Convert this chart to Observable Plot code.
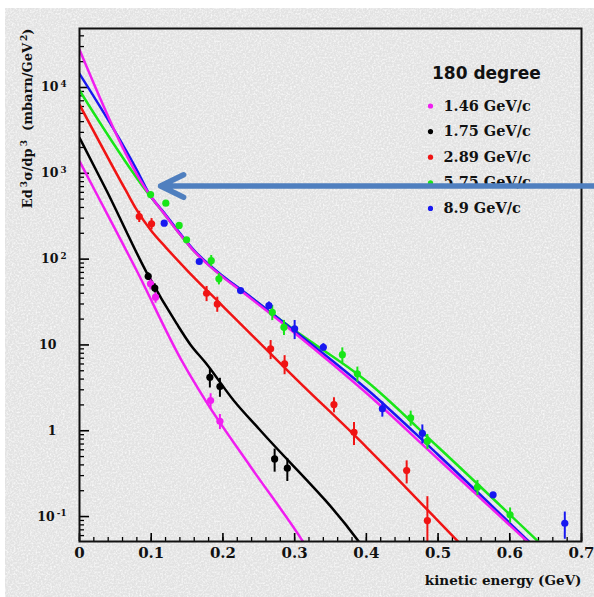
<!DOCTYPE html>
<html><head><meta charset="utf-8">
<script src="https://cdn.jsdelivr.net/npm/d3@7"></script>
<script src="https://cdn.jsdelivr.net/npm/@observablehq/plot@0.6"></script>
<style>
html,body{margin:0;padding:0;background:#fff;}
#wrap{position:relative;width:594px;height:597px;overflow:hidden;}
#bg{position:absolute;left:5px;top:8px;right:0;bottom:0;background-color:#e2e2e2;
background-image:url("data:image/svg+xml;utf8,<svg xmlns='http://www.w3.org/2000/svg' width='240' height='240'><filter id='n'><feTurbulence type='fractalNoise' baseFrequency='0.55' numOctaves='3' stitchTiles='stitch'/><feColorMatrix type='matrix' values='0 0 0 0 1  0 0 0 0 1  0 0 0 0 1  1.6 0 0 0 -0.62'/></filter><rect width='100%' height='100%' filter='url(%23n)'/></svg>");}
#chart{position:absolute;left:0;top:0;}
</style></head>
<body><div id="wrap"><div id="bg"></div><div id="chart"></div></div>
<script>
// ---------- axes ----------
const xDomain = [0, 0.7];
const yDomain = [0.0512, 48700];
const xTicks = [0, 0.1, 0.2, 0.3, 0.4, 0.5, 0.6, 0.7];
const xTickLabels = ["0", "0.1", "0.2", "0.3", "0.4", "0.5", "0.6", "0.7"];
const xMinorTicks = d3.range(0, 0.7001, 0.02);
const yTicks = [1e4, 1e3, 1e2, 10, 1, 0.1];
const yTickLabels = ["10{4}", "10{3}", "10{2}", "10", "1", "10{-1}"];
const yMinorTicks = [];
for (let e = -2; e <= 4; e++) for (let m = 2; m <= 9; m++) {
  const v = m * Math.pow(10, e);
  if (v > yDomain[0] && v < yDomain[1]) yMinorTicks.push(v);
}
const yLabel = "Ed{3}σ/dp{3}  (mbarn/GeV{2})";
const xLabel = "kinetic energy (GeV)";
const legendTitle = "180 degree";

// ---------- series ----------
const seriesNames = ["1.46 GeV/c", "1.75 GeV/c", "2.89 GeV/c", "5.75 GeV/c", "8.9 GeV/c"];
const seriesColors = ["#f01ef0", "#000000", "#f01414", "#18e618", "#1818f0"];

// measured points (x: kinetic energy GeV, y: cross section, err: relative error)
const p146X = [0.099, 0.106, 0.1828, 0.1958];
const p146Y = [51.5, 36, 2.25, 1.29];
const p146Err = [0.15, 0.15, 0.2, 0.2];

const p175X = [0.0958, 0.105, 0.1818, 0.1958, 0.2721, 0.2898];
const p175Y = [63, 46, 4.2, 3.27, 0.47, 0.366];
const p175Err = [0.1, 0.12, 0.25, 0.25, 0.3, 0.3];

const p289X = [0.0833, 0.1005, 0.1772, 0.1921, 0.2665, 0.286, 0.3548, 0.3828, 0.4562, 0.4851];
const p289Y = [314, 258, 40, 30, 9.0, 6.0, 2.02, 0.96, 0.343, 0.0897];
const p289Err = [0.15, 0.15, 0.2, 0.2, 0.25, 0.25, 0.2, 0.3, 0.3, 0.9];

const p575X = [0.0991, 0.1204, 0.139, 0.1493, 0.1837, 0.1944, 0.2688, 0.2851, 0.3665, 0.3875, 0.4618, 0.4851, 0.5549, 0.6004];
const p575Y = [566, 449, 247, 168, 96, 58.9, 24, 16.1, 7.7, 4.6, 1.41, 0.755, 0.22, 0.105];
const p575Err = [0.04, 0.04, 0.05, 0.05, 0.15, 0.15, 0.2, 0.2, 0.2, 0.2, 0.2, 0.2, 0.2, 0.2];

const p89X = [0.1181, 0.167, 0.2246, 0.2642, 0.300, 0.340, 0.4223, 0.4781, 0.5767, 0.6767];
const p89Y = [262, 93.8, 43, 28.8, 15.4, 9.4, 1.80, 0.935, 0.179, 0.0836];
const p89Err = [0.05, 0.05, 0.05, 0.1, 0.25, 0.1, 0.2, 0.25, 0.05, 0.35];

// fitted curves
const fitMagentaLowX = [0, 0.0214, 0.0795, 0.1423, 0.1758, 0.2386, 0.3107, 0.313];
const fitMagentaLowY = [1384, 631, 74.1, 6.61, 2.24, 0.380, 0.0525, 0.049];

const fitBlackX = [0, 0.0377, 0.0958, 0.1353, 0.155, 0.175, 0.2153, 0.2526, 0.3875, 0.391];
const fitBlackY = [2594, 631, 64.6, 17.8, 10, 6.31, 2.24, 1.0, 0.0537, 0.049];

const fitRedX = [0, 0.0646, 0.08, 0.1, 0.12, 0.15, 0.2, 0.3, 0.4, 0.5, 0.53];
const fitRedY = [6310, 631, 372, 214, 138, 74.1, 28.2, 4.17, 0.646, 0.0891, 0.049];

const fitGreenX = [0, 0.097, 0.118, 0.14, 0.16, 0.18, 0.2, 0.225, 0.3, 0.4, 0.5, 0.642];
const fitGreenY = [9230, 562, 339, 195, 123, 86.1, 62.4, 43.7, 14.8, 3.80, 0.646, 0.049];

const fitBlueX = [0, 0.0805, 0.0966, 0.118, 0.14, 0.16, 0.18, 0.2, 0.225, 0.3, 0.4, 0.5, 0.629];
const fitBlueY = [14450, 1072, 589, 347, 200, 126, 87.1, 63.1, 44.2, 14.5, 3.09, 0.525, 0.049];

const fitMagentaHighX = [0, 0.0966, 0.118, 0.14, 0.16, 0.18, 0.2, 0.225, 0.3, 0.4, 0.5, 0.627];
const fitMagentaHighY = [27500, 582, 339, 195, 123, 85.1, 61.7, 42.7, 13.8, 2.75, 0.468, 0.049];

// annotation arrow (data units)
const arrowFromX = [0.72];
const arrowToX = [0.113];
const arrowY = [711];

// ---------- build tables ----------
const pointSets = [
  [p146X, p146Y, p146Err, 0], [p175X, p175Y, p175Err, 1], [p289X, p289Y, p289Err, 2],
  [p575X, p575Y, p575Err, 3], [p89X, p89Y, p89Err, 4]
];
const points = pointSets.flatMap(([xs, ys, es, s]) => xs.map((x, i) => ({
  x, y: ys[i], lo: ys[i] * (1 - es[i]), hi: ys[i] * (1 + es[i]), color: seriesColors[s]
})));
const curveSets = [
  [fitGreenX, fitGreenY, seriesColors[3]],
  [fitRedX, fitRedY, seriesColors[2]],
  [fitBlackX, fitBlackY, seriesColors[1]],
  [fitMagentaLowX, fitMagentaLowY, seriesColors[0]],
  [fitBlueX, fitBlueY, seriesColors[4]],
  [fitMagentaHighX, fitMagentaHighY, seriesColors[0]]
];
const arrows = arrowFromX.map((x1, i) => ({x1, x2: arrowToX[i], y: arrowY[i]}));

const serif = "DejaVu Serif";
const marks = [];
// ticks
marks.push(Plot.axisX(xMinorTicks, {tickSize: -4, tickFormat: () => "", strokeWidth: 1.3, label: null}));
marks.push(Plot.axisX(xTicks, {tickSize: -8, tickFormat: () => "", strokeWidth: 1.6, label: null}));
marks.push(Plot.axisY(yMinorTicks, {tickSize: -5, tickFormat: () => "", strokeWidth: 1.3, label: null}));
marks.push(Plot.axisY(yTicks, {tickSize: -10, tickFormat: () => "", strokeWidth: 1.6, label: null}));
// curves
for (const [xs, ys, col] of curveSets) {
  marks.push(Plot.line(xs.map((x, i) => ({x, y: ys[i]})), {
    x: "x", y: "y", stroke: col, strokeWidth: 2.5, curve: "monotone-x", clip: true
  }));
}
// error bars + points
marks.push(Plot.ruleX(points, {x: "x", y1: "lo", y2: "hi", stroke: "color", strokeWidth: 2, clip: true}));
marks.push(Plot.dot(points, {x: "x", y: "y", fill: "color", r: 3.6, stroke: null}));
// frame
marks.push(Plot.frame({stroke: "#111", strokeWidth: 2}));
// tick labels
marks.push(Plot.text(xTicks, {x: d => d, text: (d, i) => xTickLabels[i], frameAnchor: "bottom", dy: 12,
  lineAnchor: "middle", fontFamily: serif, fontWeight: "bold", fontSize: 15, fill: "#111"}));
const yTickRows = yTicks.map((v, i) => ({v, t: yTickLabels[i]}));
marks.push(Plot.text(yTickRows.filter(d => d.t.includes("{")), {y: "v", text: "t", frameAnchor: "left", dx: -13,
  textAnchor: "end", lineAnchor: "middle", fontFamily: serif, fontWeight: "bold", fontSize: 12.5, fill: "#111"}));
marks.push(Plot.text(yTickRows.filter(d => !d.t.includes("{")), {y: "v", text: "t", frameAnchor: "left", dx: -23,
  textAnchor: "end", lineAnchor: "middle", fontFamily: serif, fontWeight: "bold", fontSize: 12.5, fill: "#111"}));
// axis labels
marks.push(Plot.text([yLabel], {text: d => d, frameAnchor: "top-left", dx: -52, dy: 0, rotate: -90,
  textAnchor: "end", lineAnchor: "middle", fontFamily: serif, fontWeight: "bold", fontSize: 13, fill: "#111"}));
marks.push(Plot.text([xLabel], {text: d => d, frameAnchor: "bottom-right", dx: 0, dy: 39,
  textAnchor: "end", lineAnchor: "middle", fontFamily: serif, fontWeight: "bold", fontSize: 13.5, fill: "#111"}));
// legend
marks.push(Plot.text([legendTitle], {text: d => d, frameAnchor: "top-left", dx: 352.5, dy: 45,
  textAnchor: "start", lineAnchor: "middle", fontFamily: "DejaVu Sans", fontWeight: "bold", fontSize: 17, fill: "#111"}));
seriesNames.forEach((name, i) => {
  marks.push(Plot.dot([name], {frameAnchor: "top-left", dx: 351, dy: 77.5 + i * 25.6, r: 2.6, fill: seriesColors[i]}));
  marks.push(Plot.text([name], {text: d => d, frameAnchor: "top-left", dx: 364, dy: 77.5 + i * 25.6,
    textAnchor: "start", lineAnchor: "middle", fontFamily: serif, fontWeight: "bold", fontSize: 14.5, fill: "#111"}));
});
// annotation arrow
marks.push(Plot.arrow(arrows, {x1: "x1", x2: "x2", y1: "y", y2: "y", stroke: "#4f7fbf", strokeWidth: 5.5,
  headLength: 7, headAngle: 52}));

const chart = Plot.plot({
  width: 594, height: 597,
  marginTop: 28, marginLeft: 79, marginRight: 13, marginBottom: 56,
  x: {domain: xDomain, label: null},
  y: {type: "log", domain: yDomain, label: null},
  style: {background: "transparent", overflow: "visible", fontFamily: serif},
  marks
});

// superscript post-processing: "{...}" becomes a raised tspan
const NS = "http://www.w3.org/2000/svg";
chart.querySelectorAll("text").forEach(t => {
  const s = t.textContent;
  if (!s.includes("{")) return;
  const parts = s.split(/(\{[^}]*\})/).filter(p => p.length);
  t.textContent = "";
  let raised = false;
  for (const p of parts) {
    const ts = document.createElementNS(NS, "tspan");
    if (p.startsWith("{")) {
      ts.textContent = p.slice(1, -1);
      ts.setAttribute("font-size", "0.7em");
      ts.setAttribute("dy", "-0.5em");
      ts.setAttribute("dx", "2");
      raised = true;
    } else {
      ts.textContent = p;
      if (raised) { ts.setAttribute("dy", "0.35em"); raised = false; }
    }
    t.appendChild(ts);
  }
});
document.getElementById("chart").appendChild(chart);
</script>
</body></html>
